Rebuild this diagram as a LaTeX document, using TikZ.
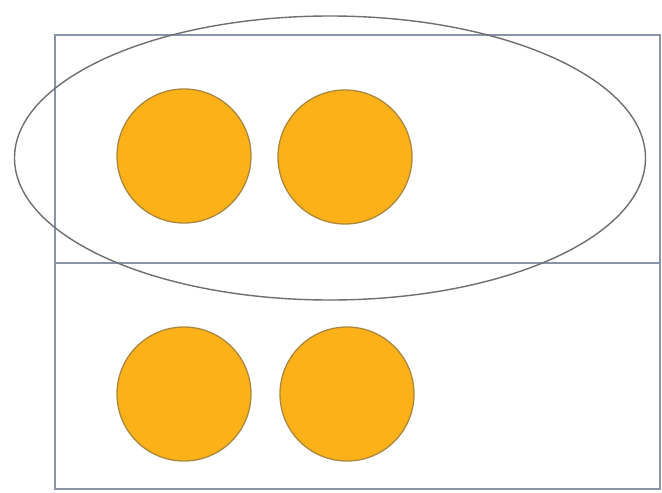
\documentclass[tikz,border=0pt]{standalone}
\usetikzlibrary{shapes.geometric}
\definecolor{ballfill}{RGB}{252,177,24}
\definecolor{balledge}{RGB}{170,135,60}
\definecolor{boxline}{RGB}{135,148,170}
\definecolor{ringline}{RGB}{110,110,115}
\begin{document}
\begin{tikzpicture}[x=1pt,y=-1pt,
  ball/.style={circle,fill=ballfill,draw=balledge,line width=1.3pt,minimum size=134pt,inner sep=0pt},
  boxstyle/.style={draw=boxline,line width=1.5pt},
  ring/.style={ellipse,draw=ringline,line width=1.4pt,minimum width=631pt,minimum height=284pt,inner sep=0pt}]
\useasboundingbox (0,0) rectangle (662,493);
\fill[white] (0,0) rectangle (662,493);
\coordinate (tl) at (55,35);
\coordinate (br) at (660,489);
\coordinate (ml) at (55,263);
\coordinate (mr) at (660,263);
\draw[boxstyle] (tl) rectangle (br);
\draw[boxstyle] (ml) -- (mr);
\node[ball] (b1) at (184,156) {};
\node[ball] (b2) at (345,157) {};
\node[ball] (b3) at (184,394) {};
\node[ball] (b4) at (347,394) {};
\node[ring] (grp) at (330,158) {};
\end{tikzpicture}
\end{document}
